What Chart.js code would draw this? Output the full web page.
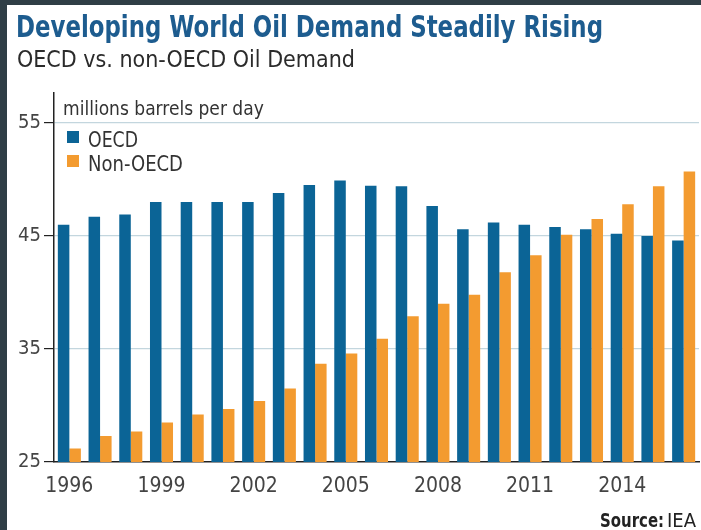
<!DOCTYPE html>
<html>
<head>
<meta charset="utf-8">
<script src="https://cdn.jsdelivr.net/npm/chart.js@4/dist/chart.umd.min.js"></script>
<style>
  html, body { margin: 0; padding: 0; background: #fff; }
  #wrap { position: relative; width: 701px; height: 530px; }
</style>
</head>
<body>
<div id="wrap"><canvas id="myChart" width="701" height="530"></canvas></div>
<script>
// Data
const years = ["1996", "1997", "1998", "1999", "2000", "2001", "2002", "2003", "2004", "2005",
	"2006", "2007", "2008", "2009", "2010", "2011", "2012", "2013", "2014", "2015", "2016"];
const oecd = [46.0, 46.7, 46.9, 48.0, 48.0, 48.0, 48.0, 48.8, 49.5, 49.9,
	49.45, 49.4, 47.65, 45.6, 46.2, 46.0, 45.8, 45.6, 45.2, 45.0, 44.6];
const nonOecd = [26.2, 27.3, 27.7, 28.5, 29.2, 29.7, 30.4, 31.5, 33.7, 34.6,
	35.9, 37.9, 39.0, 39.8, 41.8, 43.3, 45.1, 46.5, 47.8, 49.4, 50.7];
const yTicks = [25, 35, 45, 55];

const FONT = '"Liberation Sans Narrow", "DejaVu Sans Condensed", "Roboto", sans-serif';
const BLUE = "#0b6496";
const ORANGE = "#f39b30";

// frame, titles, unit label, legend and source
const decor = {
	id: "decor",
	beforeDraw(chart) {
		const c = chart.ctx;
		c.save();
		c.fillStyle = "#fff";
		c.fillRect(0, 0, chart.width, chart.height);
		c.fillStyle = "#2f3e46";
		c.fillRect(0, 0, chart.width, 5);
		c.fillRect(0, 0, 7, chart.height);
		c.restore();
	},
	afterDraw(chart) {
		const c = chart.ctx;
		c.save();
		c.textBaseline = "alphabetic";
		c.fillStyle = "#1d5c8f";
		c.font = "bold 30px " + FONT;
		c.fillText("Developing World Oil Demand Steadily Rising", 16, 37, 587);
		c.fillStyle = "#2b2b2b";
		c.font = "23px " + FONT;
		c.fillText("OECD vs. non-OECD Oil Demand", 17, 67, 338);

		c.fillStyle = "#333";
		c.font = "19px " + FONT;
		c.fillText("millions barrels per day", 63, 115, 207);

		// legend
		const ds = chart.data.datasets;
		const widths = [50, 95];
		ds.forEach((d, i) => {
			const y = 131 + i * 24;
			c.fillStyle = d.backgroundColor;
			c.fillRect(67, y, 12, 12);
			c.fillStyle = "#333";
			c.font = "21px " + FONT;
			c.fillText(d.label, 88, y + 16, widths[i]);
		});

		// source
		c.fillStyle = "#222";
		c.font = "bold 20px " + FONT;
		c.fillText("Source:", 600, 527, 64);
		c.font = "20px " + FONT;
		c.fillText("IEA", 667, 527, 36);
		c.restore();
	}
};

const ctx = document.getElementById("myChart").getContext("2d");
const myChart = new Chart(ctx, {
	type: "bar",
	data: {
		labels: years,
		datasets: [
			{ label: "OECD", data: oecd, backgroundColor: BLUE },
			{ label: "Non-OECD", data: nonOecd, backgroundColor: ORANGE },
		],
	},
	options: {
		responsive: false,
		animation: false,
		layout: { padding: { top: 93, left: 0, right: 2, bottom: 18 } },
		datasets: { bar: { barPercentage: 1, categoryPercentage: 0.75 } },
		plugins: { legend: { display: false }, tooltip: { enabled: false } },
		scales: {
			x: {
				grid: { display: false, drawTicks: false },
				border: { display: true, color: "#222", width: 1.5 },
				ticks: {
					autoSkip: false,
					maxRotation: 0,
					padding: 12,
					color: "#444",
					font: { family: FONT, size: 21 },
					callback: (v, i) => (i % 3 === 0 ? years[i] : ""),
				},
				afterFit: (s) => { s.height = 50; },
			},
			y: {
				min: 25,
				max: 57.65,
				afterBuildTicks: (s) => { s.ticks = yTicks.map((v) => ({ value: v })); },
				grid: {
					color: (g) => (g.tick && g.tick.value === 25 ? "rgba(0,0,0,0)" : "#c3d6de"),
					tickColor: "#222",
					tickLength: 10,
					lineWidth: 1.2,
				},
				border: { display: true, color: "#222", width: 1.5 },
				ticks: {
					padding: 3,
					color: "#444",
					font: { family: FONT, size: 20 },
				},
				afterFit: (s) => { s.width = 54; },
			},
		},
	},
	plugins: [decor],
});
</script>
</body>
</html>
